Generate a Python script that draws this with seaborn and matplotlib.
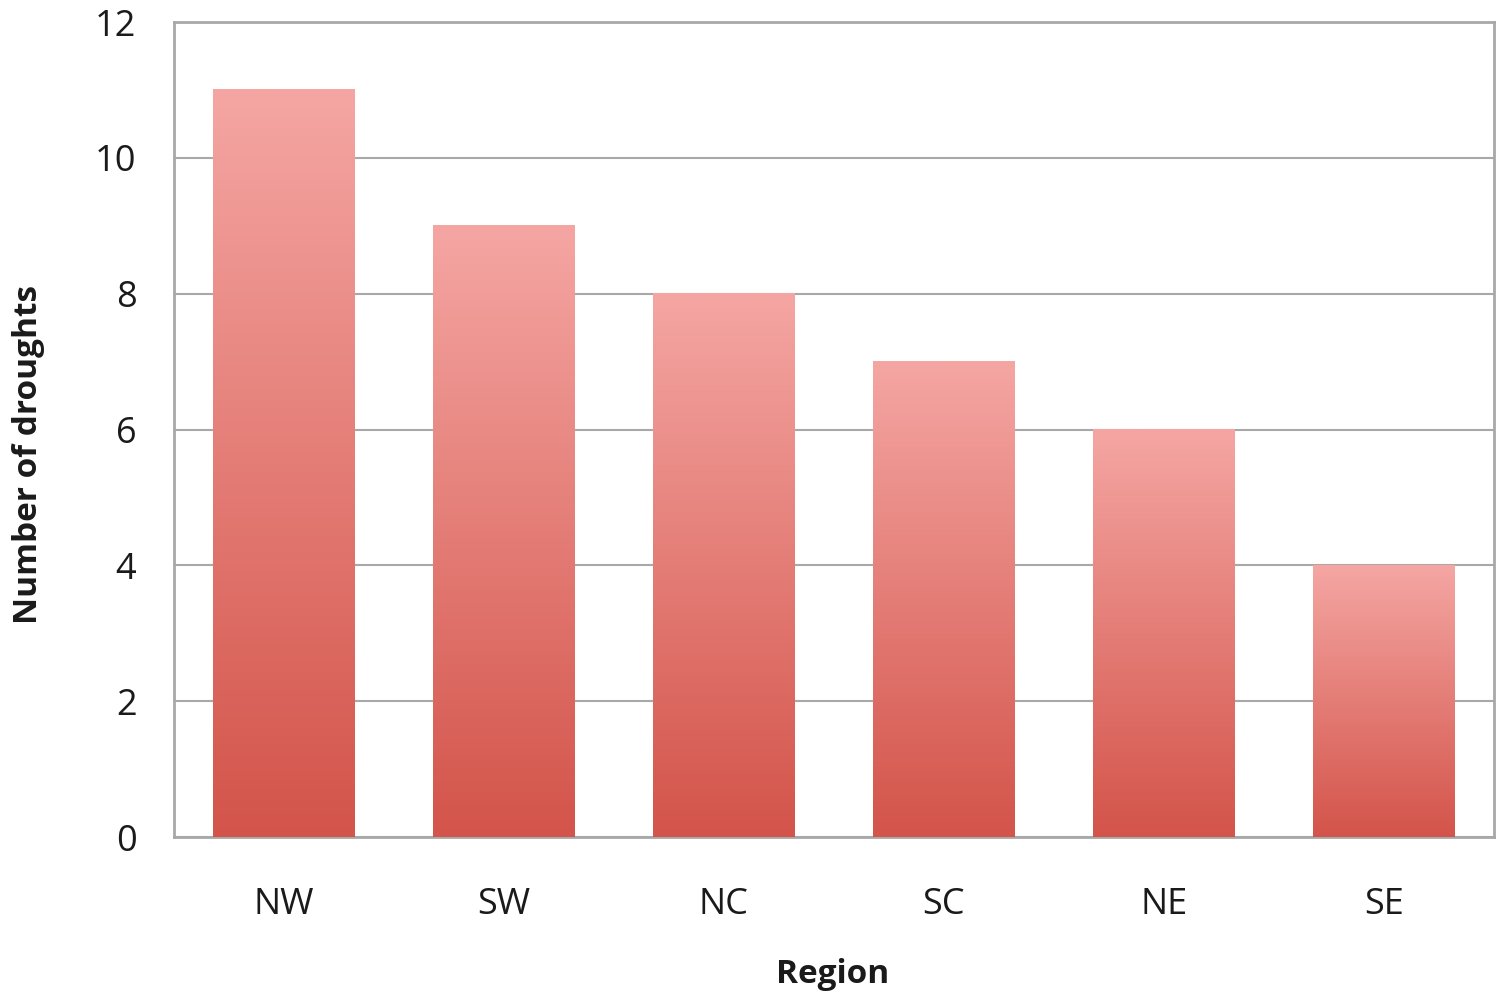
import numpy as np
import pandas as pd
import matplotlib
matplotlib.use("Agg")
import matplotlib.pyplot as plt
from matplotlib.colors import LinearSegmentedColormap
import seaborn as sns

regions = ["NW", "SW", "NC", "SC", "NE", "SE"]
droughts = [11, 9, 8, 7, 6, 4]
y_ticks = [0, 2, 4, 6, 8, 10, 12]

df = pd.DataFrame({"Region": regions, "Number of droughts": droughts})

sns.set_theme(style="white")
plt.rcParams["font.family"] = ["Open Sans", "DejaVu Sans"]

fig = plt.figure(figsize=(15.04, 9.96), dpi=100)
ax = fig.add_axes([174 / 1504, 1 - 837 / 996, 1320 / 1504, 815 / 996])

sns.barplot(data=df, x="Region", y="Number of droughts", ax=ax,
            width=0.645, color="#E07A72", zorder=3)

# vertical light-to-dark gradient inside each bar
grad_cmap = LinearSegmentedColormap.from_list("bar_grad", ["#D3544A", "#F5A6A3"])
grad = np.linspace(0, 1, 256).reshape(-1, 1)
for patch in ax.patches:
    x0, y0 = patch.get_x(), patch.get_y()
    w, h = patch.get_width(), patch.get_height()
    patch.set_facecolor("none")
    patch.set_edgecolor("none")
    ax.imshow(grad, cmap=grad_cmap, origin="lower", aspect="auto",
              extent=(x0, x0 + w, y0, y0 + h), zorder=3, interpolation="bilinear")

ax.set_xlim(-0.5, len(regions) - 0.5)
ax.set_ylim(0, 12)
ax.set_yticks(y_ticks)
ax.set_yticklabels([str(t) for t in y_ticks])
for lbl in ax.get_yticklabels():
    lbl.set_va("center_baseline")

ax.yaxis.grid(True, color="#A8A8A8", linewidth=1.5, zorder=0)
ax.xaxis.grid(False)
ax.set_axisbelow(True)
for side in ax.spines.values():
    side.set_color("#A8A8A8")
    side.set_linewidth(2)

ax.tick_params(axis="y", length=0, pad=27, labelsize=26, labelcolor="#1a1a1a")
ax.tick_params(axis="x", length=0, pad=36, labelsize=26, labelcolor="#1a1a1a")

ax.set_xlabel("Region", fontsize=24, fontweight="bold", color="#1a1a1a",
              va="center", ha="center")
ax.set_ylabel("Number of droughts", fontsize=24, fontweight="bold", color="#1a1a1a",
              va="center", ha="center")
ax.xaxis.set_label_coords(0.499, -0.169)
ax.yaxis.set_label_coords(-0.1106, 0.469)

fig.savefig("out.png", dpi=100, facecolor="white")
